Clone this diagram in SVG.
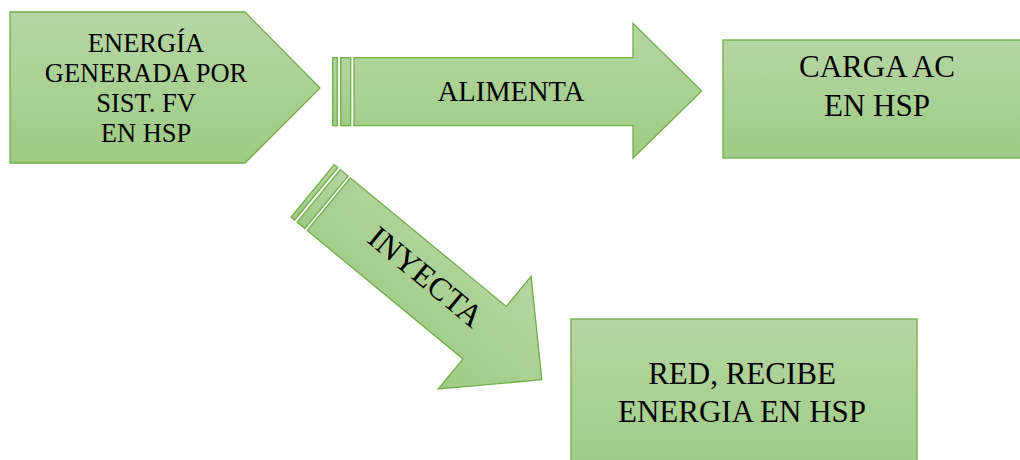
<svg xmlns="http://www.w3.org/2000/svg" width="1020" height="460" viewBox="0 0 1020 460">
<defs>
<linearGradient id="g" x1="0" y1="0" x2="0" y2="1">
<stop offset="0" stop-color="#b5d6a4"/>
<stop offset="1" stop-color="#9ecb84"/>
</linearGradient>
<style>
.s{fill:url(#g);stroke:#70ad47;stroke-width:1.3}
.t{fill:#000;text-anchor:middle}
</style>
</defs>
<rect width="1020" height="460" fill="#fff"/>
<g id="n-energia">
<path class="s" d="M10,12 L245,12 L320,88 L245,163 L10,163 Z"/>
<text class="t" font-family="Liberation Serif, serif" font-size="26.5"><tspan x="146" y="52">ENERGÍA</tspan><tspan x="146" y="82">GENERADA POR</tspan><tspan x="146" y="112">SIST. FV</tspan><tspan x="146" y="142">EN HSP</tspan></text>
</g>
<g id="n-carga">
<rect class="s" x="723" y="40" width="310" height="118"/>
<text class="t" font-family="Liberation Serif, serif" font-size="31"><tspan x="877" y="77">CARGA AC</tspan><tspan x="877" y="116">EN HSP</tspan></text>
</g>
<g id="n-red">
<rect class="s" x="571" y="319" width="346" height="160"/>
<text class="t" font-family="Liberation Serif, serif" font-size="31"><tspan x="742" y="384">RED, RECIBE</tspan><tspan x="742" y="422">ENERGIA EN HSP</tspan></text>
</g>
<g id="connectors">
<g id="c-alimenta">
<rect class="s" x="332.7" y="57.7" width="4.6" height="68"/>
<rect class="s" x="340.7" y="57.7" width="10" height="68"/>
<path class="s" d="M354,57.7 L633,57.7 L633,23.3 L701.7,91 L633,158.3 L633,125.7 L354,125.7 Z"/>
<text class="t" font-family="Liberation Serif, serif" font-size="28.5" x="511" y="101">ALIMENTA</text>
</g>
<g id="c-inyecta" transform="translate(328.8,204.2) rotate(39.5)">
<rect class="s" x="-21" y="-34" width="4.6" height="68"/>
<rect class="s" x="-13" y="-34" width="10" height="68"/>
<path class="s" d="M0,-34 L202,-34 L202,-73 L276,0 L202,73 L202,34 L0,34 Z"/>
<text class="t" font-family="Liberation Serif, serif" font-size="32" x="121" y="5">INYECTA</text>
</g>
</g>
</svg>
